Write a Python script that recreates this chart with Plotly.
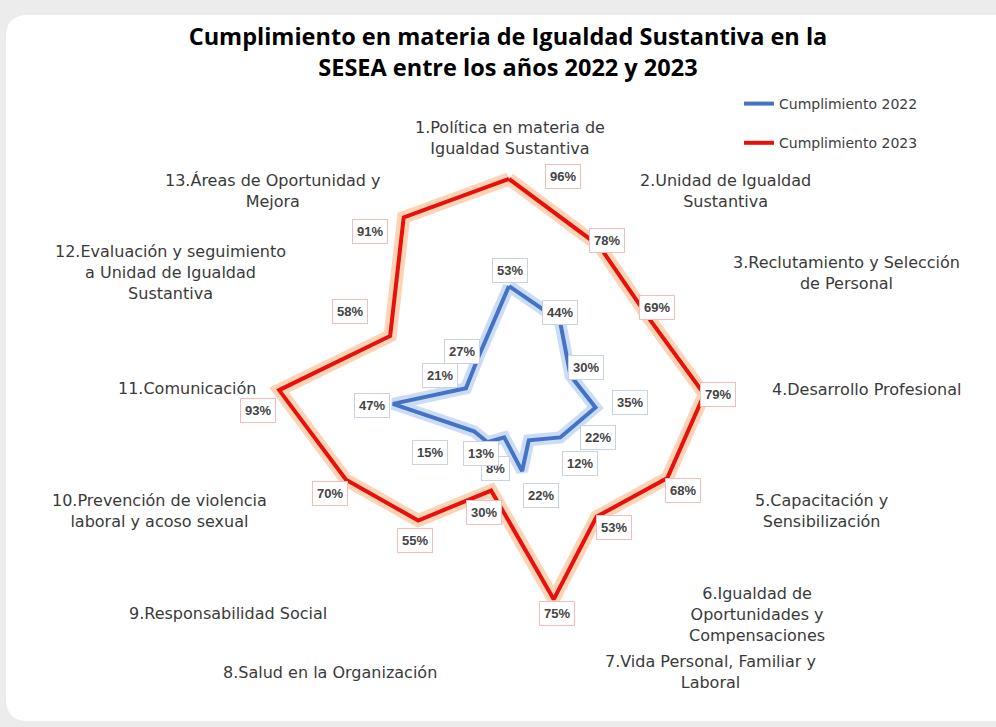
import plotly.graph_objects as go

# datos
categorias = ["1.Política en materia de Igualdad Sustantiva",
              "2.Unidad de Igualdad Sustantiva",
              "3.Reclutamiento y Selección de Personal",
              "4.Desarrollo Profesional",
              "5.Capacitación y Sensibilización",
              "6.Igualdad de Oportunidades y Compensaciones",
              "7.Vida Personal, Familiar y Laboral",
              "8.Salud en la Organización",
              "9.Responsabilidad Social",
              "10.Prevención de violencia laboral y acoso sexual",
              "11.Comunicación",
              "12.Evaluación y seguimiento a Unidad de Igualdad Sustantiva",
              "13.Áreas de Oportunidad y Mejora"]
cumplimiento_2022 = [53, 44, 30, 35, 22, 12, 22, 8, 13, 15, 47, 21, 27]
cumplimiento_2023 = [96, 78, 69, 79, 68, 53, 75, 30, 55, 70, 93, 58, 91]

# textos de las etiquetas de cada eje, con saltos de linea como en el original
etiquetas_ejes = ["1.Política en materia de<br>Igualdad Sustantiva",
                  "2.Unidad de Igualdad<br>Sustantiva",
                  "3.Reclutamiento y Selección<br>de Personal",
                  "4.Desarrollo Profesional",
                  "5.Capacitación y<br>Sensibilización",
                  "6.Igualdad de<br>Oportunidades y<br>Compensaciones",
                  "7.Vida Personal, Familiar y<br>Laboral",
                  "8.Salud en la Organización",
                  "9.Responsabilidad Social",
                  "10.Prevención de violencia<br>laboral y acoso sexual",
                  "11.Comunicación",
                  "12.Evaluación y seguimiento<br>a Unidad de Igualdad<br>Sustantiva",
                  "13.Áreas de Oportunidad y<br>Mejora"]

W, H = 996, 727
AZUL = '#4472C4'
ROJO = '#E8100A'
GRIS_TEXTO = '#3a3a3a'

# posiciones (px) de las etiquetas de texto
pos_ejes = [(510, 138), (725, 191), (846, 273), (866, 389), (821, 511),
            (757, 614), (710, 672), (330, 672), (228, 613), (159, 511),
            (187, 388), (170, 272), (273, 191)]
pos_2023 = [(563, 177), (607, 240), (657, 307), (718, 395), (683, 490),
            (614, 527), (557, 613), (484, 512), (415, 540), (330, 493),
            (258, 410), (350, 311), (370, 231)]
pos_2022 = [(510, 270), (560, 312), (586, 367), (630, 402), (598, 437),
            (580, 464), (541, 495), (495, 468), (481, 453), (430, 452),
            (372, 405), (440, 375), (462, 351)]


def px(x, y):
    return x / W, 1 - y / H


theta = categorias + categorias[:1]
r22 = cumplimiento_2022 + cumplimiento_2022[:1]
r23 = cumplimiento_2023 + cumplimiento_2023[:1]

fig = go.Figure()

# brillo de las lineas
fig.add_trace(go.Scatterpolar(r=r23, theta=theta, mode='lines',
                              line=dict(color='rgba(248,170,110,0.5)', width=13),
                              showlegend=False, hoverinfo='skip'))
fig.add_trace(go.Scatterpolar(r=r22, theta=theta, mode='lines',
                              line=dict(color='rgba(140,180,235,0.45)', width=12),
                              showlegend=False, hoverinfo='skip'))

fig.add_trace(go.Scatterpolar(r=r22, theta=theta, mode='lines',
                              line=dict(color=AZUL, width=4),
                              name='Cumplimiento 2022', legendgroup='a'))
fig.add_trace(go.Scatterpolar(r=r23, theta=theta, mode='lines',
                              line=dict(color=ROJO, width=4),
                              name='Cumplimiento 2023', legendgroup='b'))

anotaciones = []
for texto, (x, y) in zip(etiquetas_ejes, pos_ejes):
    ax, ay = px(x, y)
    anotaciones.append(dict(x=ax, y=ay, xref='paper', yref='paper', text=texto,
                            showarrow=False, align='center',
                            xanchor='center', yanchor='middle',
                            font=dict(family='DejaVu Sans', size=16, color=GRIS_TEXTO)))

for v, (x, y) in zip(cumplimiento_2023, pos_2023):
    ax, ay = px(x, y)
    anotaciones.append(dict(x=ax, y=ay, xref='paper', yref='paper', text=f'<b>{v}%</b>',
                            showarrow=False, xanchor='center', yanchor='middle',
                            bgcolor='white', bordercolor='#f0bcbc',
                            borderwidth=1, borderpad=4,
                            font=dict(family='Liberation Sans', size=13, color='#444444')))

for v, (x, y) in zip(cumplimiento_2022, pos_2022):
    ax, ay = px(x, y)
    anotaciones.append(dict(x=ax, y=ay, xref='paper', yref='paper', text=f'<b>{v}%</b>',
                            showarrow=False, xanchor='center', yanchor='middle',
                            bgcolor='white', bordercolor='#c8d2e4',
                            borderwidth=1, borderpad=4,
                            font=dict(family='Liberation Sans', size=13, color='#444444')))

# tarjeta blanca con esquinas redondeadas
x0, x1 = 6 / W, 1.02
y0, y1 = 1 - 721 / H, 1 - 15 / H
rx, ry = 22 / W, 22 / H
tarjeta = (f"M {x0 + rx},{y1} L {x1},{y1} L {x1},{y0} L {x0 + rx},{y0} "
           f"Q {x0},{y0} {x0},{y0 + ry} L {x0},{y1 - ry} Q {x0},{y1} {x0 + rx},{y1} Z")

fig.update_layout(
    width=W, height=H,
    margin=dict(l=0, r=0, t=0, b=0),
    paper_bgcolor='#ececec',
    plot_bgcolor='white',
    shapes=[dict(type='path', path=tarjeta, xref='paper', yref='paper',
                 fillcolor='white', line=dict(width=0), layer='below')],
    title=dict(text='Cumplimiento en materia de Igualdad Sustantiva en la<br>SESEA entre los años 2022 y 2023',
               x=0.51, xanchor='center', y=1 - 45 / H, yanchor='middle',
               font=dict(family='Open Sans', size=23.5, color='black', weight='bold')),
    polar=dict(
        domain=dict(x=[260 / W, 758 / W], y=[1 - 667 / H, 1 - 169 / H]),
        bgcolor='rgba(0,0,0,0)',
        radialaxis=dict(visible=False, range=[0, 100]),
        angularaxis=dict(visible=False, rotation=90, direction='clockwise'),
    ),
    legend=dict(x=739 / W, y=1 - 88 / H, xanchor='left', yanchor='top',
                bgcolor='rgba(0,0,0,0)', tracegroupgap=18,
                font=dict(family='DejaVu Sans', size=14, color='#404040')),
    annotations=anotaciones,
)

# sin el margen por defecto del body de la pagina
fig.write_html("out.html", config={'displayModeBar': False},
               post_script="document.body.style.margin='0';")
